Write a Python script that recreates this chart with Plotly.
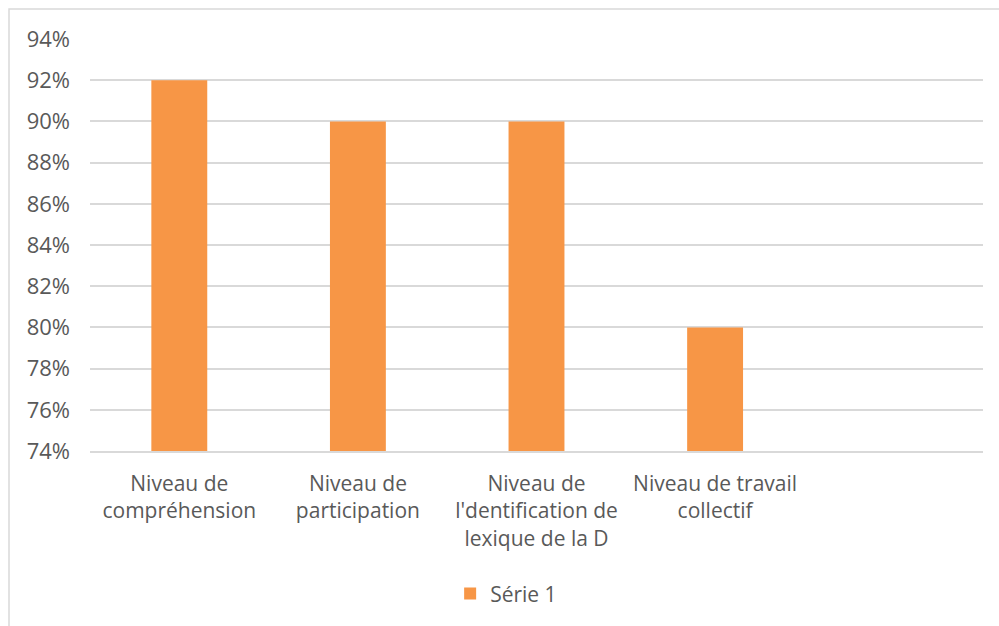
import plotly.graph_objects as go

# Category labels (the fifth slot is left empty on the axis)
categories = [
    "Niveau de<br>compréhension",
    "Niveau de<br>participation",
    "Niveau de<br>l'dentification de<br>lexique de la D",
    "Niveau de travail<br>collectif",
    " ",
]
serie_1 = [0.92, 0.90, 0.90, 0.80, None]
series_name = "Série 1"

y_min, y_max, y_step = 0.74, 0.94, 0.02

text_color = "#595959"
grid_color = "#d9d9d9"
bar_color = "#F79646"
font_family = "Open Sans"

fig = go.Figure()
fig.add_trace(go.Bar(
    x=categories,
    y=serie_1,
    name=series_name,
    marker=dict(color=bar_color, line=dict(width=0)),
    showlegend=True,
))

fig.update_layout(
    width=999,
    height=626,
    margin=dict(l=90, r=16, t=39, b=175),
    paper_bgcolor="white",
    plot_bgcolor="white",
    bargap=0.687,
    font=dict(family=font_family, size=21, color=text_color),
    showlegend=True,
    legend=dict(
        orientation="h",
        x=0.466, xanchor="center",
        y=-0.347, yanchor="middle",
        font=dict(family=font_family, size=21, color=text_color),
        itemwidth=30,
    ),
    xaxis=dict(
        type="category",
        showgrid=False,
        showline=True,
        linecolor=grid_color,
        linewidth=1.5,
        ticks="",
        ticklabelstandoff=13,
        tickfont=dict(family=font_family, size=21, color=text_color),
    ),
    yaxis=dict(
        range=[y_min, y_max],
        dtick=y_step,
        tick0=y_min,
        tickformat=".0%",
        showgrid=True,
        gridcolor=grid_color,
        gridwidth=1.5,
        zeroline=False,
        showline=False,
        ticks="",
        ticklabelstandoff=19,
        tickfont=dict(family=font_family, size=22, color=text_color),
    ),
    shapes=[
        # Outer chart frame (top and left edges visible)
        dict(
            type="rect", xref="paper", yref="paper",
            x0=-0.0907, x1=1.05, y0=-0.47, y1=1.0728,
            line=dict(color=grid_color, width=1.5),
            fillcolor="rgba(0,0,0,0)",
            layer="below",
        ),
    ],
)

fig.write_html("out.html")
